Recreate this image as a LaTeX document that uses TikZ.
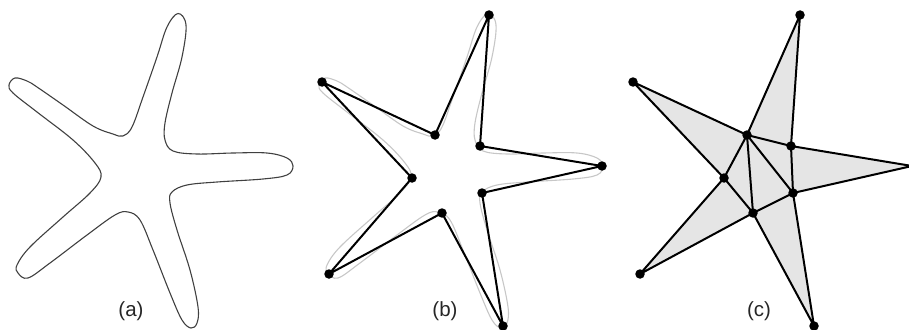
\documentclass[tikz,border=0pt]{standalone}
\usepackage{fontspec}
\setmainfont{Liberation Sans}
\tikzset{
  dot/.style={circle,fill=black,inner sep=0pt,minimum size=9.5pt},
  poly/.style={line width=2pt,black,line join=round},
  lab/.style={font=\fontsize{20.5}{24}\selectfont,text=black!85}
}
\newcommand{\starcurve}{(178,13.5) (186,25) (182,57) (172,93) (165,123) (165,140) (173,151) (197,154) (233,153) (267,153) (287,158) (293,166) (287,175) (263,179) (217,182) (187,185) (172,192) (170,203) (177,230) (190,270) (198,307) (197,323) (191,328) (182,320) (170,293) (153,250) (140,220) (128,212) (115,215) (87,235) (50,263) (28,278) (18,273) (17,265) (30,247) (63,217) (90,193) (101,177) (95,163) (73,140) (37,112) (13,93) (9,85) (15,78) (27,81) (37,87) (63,105) (93,126) (113,134) (123,136) (132,127) (143,97) (157,57) (167,27)}
\begin{document}
\begin{tikzpicture}[x=1pt,y=-1pt]
\useasboundingbox (0,0) rectangle (909,329);
% (a)
\draw[color=black!75,line width=1.1pt] plot[smooth cycle,tension=0.6] coordinates {\starcurve};
\node[lab] (la) at (131,311) {(a)};
% (b)
\draw[color=black!22,line width=1.1pt,xshift=310pt] plot[smooth cycle,tension=0.6] coordinates {\starcurve};
\foreach \n/\x/\y in {b1/489/15,b2/435/135,b3/322/82,b4/412/178,b5/329/274,b6/442/213,b7/503/326,b8/482/193,b9/602/166,b10/480/146}
  \node[dot] (\n) at (\x,\y) {};
\draw[poly] (b1.center)--(b2.center)--(b3.center)--(b4.center)--(b5.center)--(b6.center)--(b7.center)--(b8.center)--(b9.center)--(b10.center)--(b1.center);
\node[lab] (lb) at (445,311) {(b)};
% (c)
\foreach \n/\x/\y in {c1/800/15,c2/747/135,c3/633/82,c4/724/178,c5/640/274,c6/753/213,c7/814/326,c8/793/193,c9/912/166,c10/791/146}
  \coordinate (\n) at (\x,\y);
\fill[black!10] (c1)--(c2)--(c3)--(c4)--(c5)--(c6)--(c7)--(c8)--(c9)--(c10)--cycle;
\draw[poly] (c1)--(c2)--(c3)--(c4)--(c5)--(c6)--(c7)--(c8)--(c9)--(c10)--cycle;
\draw[poly] (c2)--(c10) (c10)--(c8) (c2)--(c8) (c2)--(c6) (c2)--(c4) (c4)--(c6) (c6)--(c8);
\foreach \n in {c1,c2,c3,c4,c5,c6,c7,c8,c10}
  \node[dot] at (\n) {};
\node[lab] (lc) at (759,311) {(c)};
\end{tikzpicture}
\end{document}
